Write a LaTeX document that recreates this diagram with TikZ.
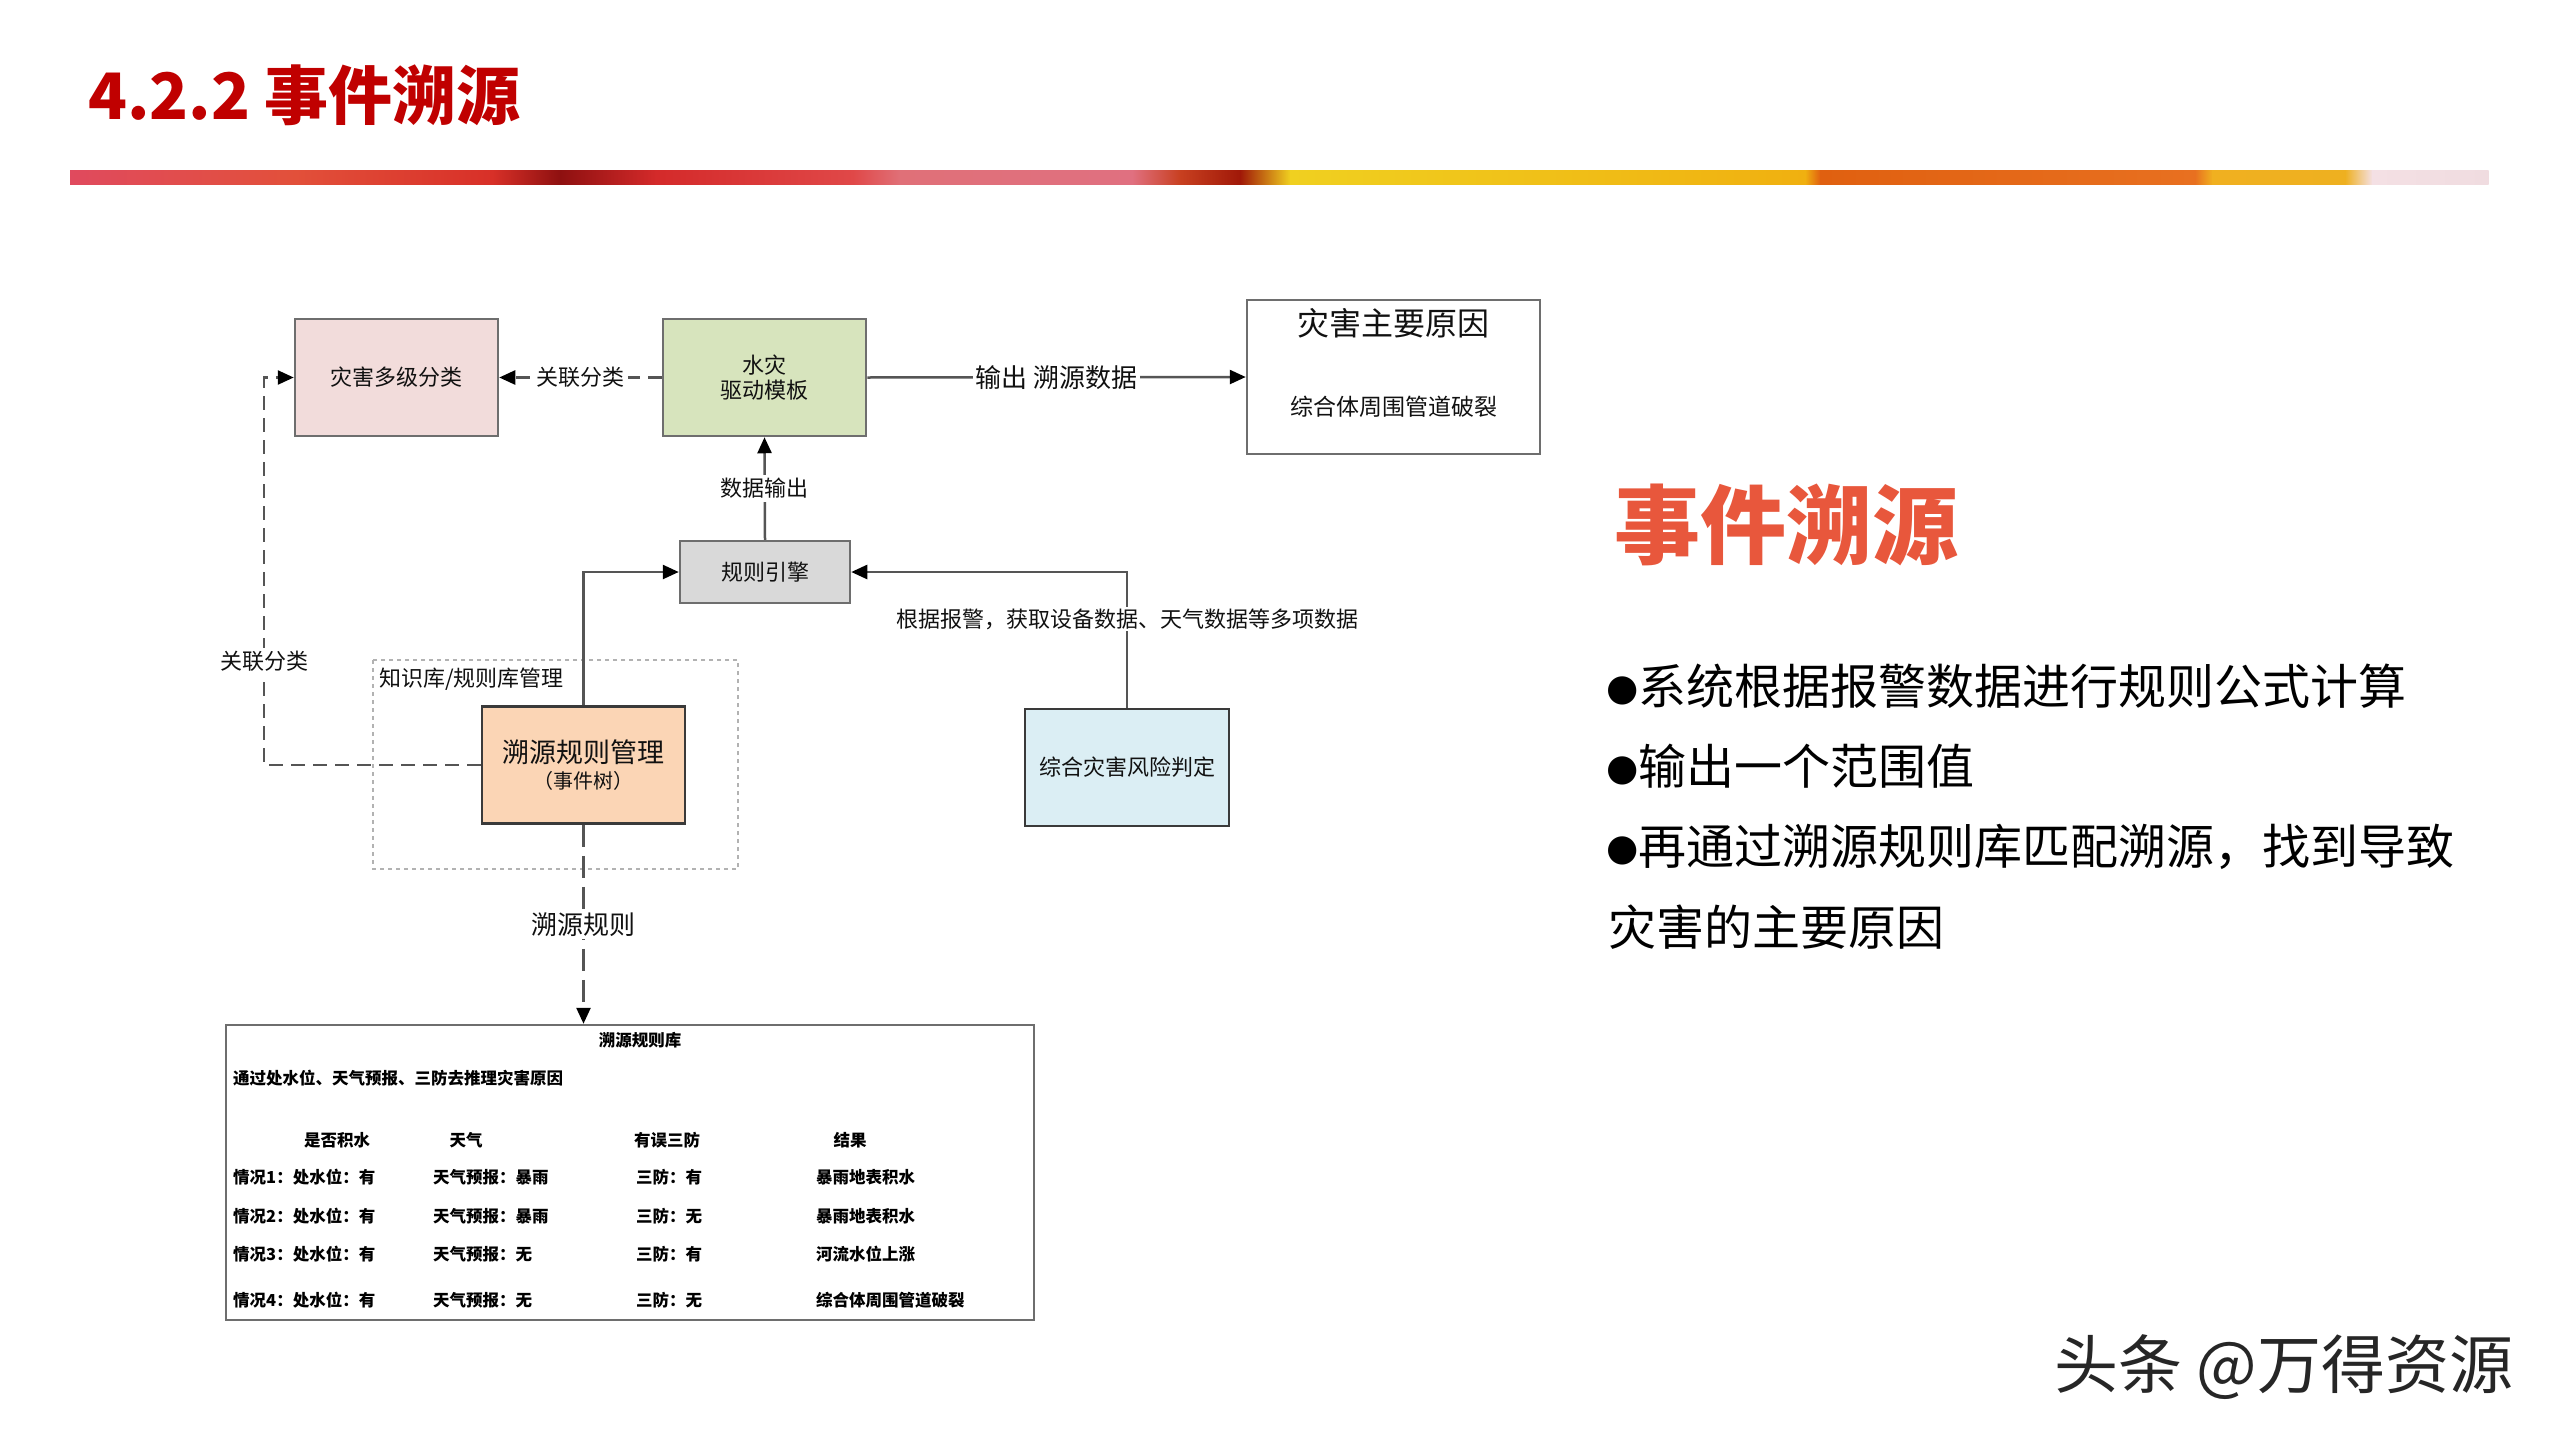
\documentclass[tikz,border=0pt]{standalone}
\usepackage{fontspec}
\setmainfont{Noto Sans CJK SC}
\newfontfamily\dejavu{DejaVu Sans}
\usetikzlibrary{arrows.meta}
\definecolor{pinkf}{HTML}{F2DCDB}
\definecolor{greenf}{HTML}{D7E4BD}
\definecolor{grayf}{HTML}{D9D9D9}
\definecolor{peachf}{HTML}{FBD5B5}
\definecolor{bluef}{HTML}{DBEEF4}
\definecolor{boxgray}{HTML}{6E6E6E}
\definecolor{darkb}{HTML}{3A3A3A}
\definecolor{lngray}{HTML}{555555}
\definecolor{txt}{HTML}{111111}
\definecolor{titlered}{HTML}{C00000}
\definecolor{headorange}{HTML}{E8573C}
\newcommand\fsz[2]{\fontsize{#1}{#2}\selectfont}
\newcommand\bdot{{\dejavu\fsz{37}{42}\raisebox{4pt}{●}}}
\begin{document}
\begin{tikzpicture}[x=1pt,y=-1pt,
  box/.style={draw=boxgray, line width=2.5pt, minimum width=203pt, minimum height=117pt, inner sep=0pt, align=center, font=\fsz{22}{25}, text=txt},
  conn/.style={draw=lngray, line width=2.5pt},
  arr/.style={-{Triangle[length=16pt,width=14pt,color=black]}},
  dsh/.style={dash pattern=on 14pt off 8pt},
  dshb/.style={dash pattern=on 22pt off 9pt},
  lbl/.style={fill=white, inner sep=3pt, font=\fsz{22}{26}, text=txt},
  tb/.style={font=\fsz{16.5}{20}\bfseries, text=black, inner sep=0pt},
  bul/.style={anchor=west, font=\fsz{48}{56}, text=black, inner sep=0pt}
]
\useasboundingbox (0,0) rectangle (2560,1440);
\fill[white] (0,0) rectangle (2560,1440);

% title
\node[anchor=west, inner sep=0pt, font=\fsz{64}{76}\bfseries, text=titlered] (title) at (88,95) {4.2.2 事件溯源};

% colourful band
\def\bandA{170}\def\bandB{184}
\foreach \xa/\ca/\xb/\cb in {
  70/E04A5E/295/E2503A,
  295/E2503A/492/D83028,
  492/D83028/560/8E1010,
  560/8E1010/656/D42A2A,
  656/D42A2A/853/E04848,
  853/E04848/900/E07078,
  900/E07078/1132/E07080,
  1132/E07080/1180/C84020,
  1180/C84020/1240/A01808,
  1240/A01808/1290/F0D020,
  1290/F0D020/1805/F0B010,
  1805/F0B010/1820/E06010,
  1820/E06010/2195/E87020,
  2195/E87020/2212/F0B020,
  2212/F0B020/2345/EEB020,
  2345/EEB020/2372/F4E0E4,
  2372/F4E0E4/2488/F0DCE0}{
  \definecolor{ca}{HTML}{\ca}\definecolor{cb}{HTML}{\cb}
  \shade[left color=ca, right color=cb] (\xa,\bandA) rectangle (\xb+0.5,\bandB);
}

% upper boxes
\node[box, fill=pinkf] (dz) at (396.5,377.5) {灾害多级分类};
\node[box, fill=greenf] (sz) at (764.5,377.5) {水灾\\驱动模板};
\node[box, fill=white, minimum width=293pt, minimum height=154pt] (yy) at (1393.5,377) {};
\node[font=\fsz{32}{36}, text=txt, inner sep=0pt] (yyt) at (1393.5,323) {灾害主要原因};
\node[font=\fsz{23}{26}, text=txt, inner sep=0pt] (yys) at (1393.5,407) {综合体周围管道破裂};
\node[box, fill=grayf, minimum width=170pt, minimum height=62pt] (gz) at (765,572) {规则引擎};

% knowledge base frame
\draw[draw=gray!60, line width=1.5pt, dash pattern=on 4pt off 4pt] (373,660) rectangle (738,869);
\node[anchor=west, font=\fsz{22}{26}, text=txt, inner sep=0pt] (kbl) at (379,679) {知识库/规则库管理};

\node[box, fill=peachf, draw=darkb] (sy) at (583.5,765) {};
\node[font=\fsz{27}{30}, text=txt, inner sep=0pt] (syt) at (583.5,752) {溯源规则管理};
\node[font=\fsz{20}{24}, text=txt, inner sep=0pt] (sys) at (583.5,781) {（事件树）};

\node[box, fill=bluef, draw=darkb, minimum width=204pt, minimum height=117pt] (zh) at (1127,767.5) {综合灾害风险判定};

% rule library box
\node[draw=boxgray, line width=2.5pt, minimum width=808pt, minimum height=295pt, inner sep=0pt] (lib) at (630,1172.5) {};

% connectors
\draw[conn, arr] (sz.east) -- (yy.west) node[midway, lbl, font=\fsz{26}{30}] (l1) {输出 溯源数据};
\draw[conn, dsh, arr] (sz.west) -- (dz.east) node[midway, lbl] (l2) {关联分类};
\draw[conn, arr] (gz.north) -- (sz.south) node[midway, lbl] (l3) {数据输出};
\draw[conn, arr] (sy.north) |- (gz.west);
\draw[conn, arr] (zh.north) |- (gz.east);
\node[lbl, inner sep=2pt] (l4) at (1127,619) {根据报警，获取设备数据、天气数据等多项数据};
\coordinate (lc) at (264,765);
\draw[conn, dsh, arr] (sy.west) -- (lc) |- (dz.west);
\node[lbl] (l5) at (264,661) {关联分类};
\draw[conn, dshb, arr] (sy.south) -- (sy.south |- lib.north) node[midway, lbl, font=\fsz{26}{30}] (l6) {溯源规则};

% table contents
\node[tb] (libt) at (640,1040) {溯源规则库};
\node[tb, anchor=west] (libd) at (233,1078) {通过处水位、天气预报、三防去推理灾害原因};
\node[tb] (h1) at (337,1140) {是否积水};
\node[tb] (h2) at (466,1140) {天气};
\node[tb] (h3) at (667,1140) {有误三防};
\node[tb] (h4) at (850,1140) {结果};
\foreach \i/\y/\a/\b/\c/\d in {
  1/1177/情况1：处水位：有/天气预报：暴雨/三防：有/暴雨地表积水,
  2/1216/情况2：处水位：有/天气预报：暴雨/三防：无/暴雨地表积水,
  3/1254/情况3：处水位：有/天气预报：无/三防：有/河流水位上涨,
  4/1300/情况4：处水位：有/天气预报：无/三防：无/综合体周围管道破裂}{
  \node[tb, anchor=west] (r\i a) at (233,\y) {\a};
  \node[tb, anchor=west] (r\i b) at (433,\y) {\b};
  \node[tb, anchor=west] (r\i c) at (636,\y) {\c};
  \node[tb, anchor=west] (r\i d) at (816,\y) {\d};
}

% right side text
\node[anchor=west, inner sep=0pt, font=\fsz{86}{96}\bfseries, text=headorange] (head) at (1614,525) {事件溯源};
\node[bul] (b1) at (1606,686) {\bdot 系统根据报警数据进行规则公式计算};
\node[bul] (b2) at (1606,766) {\bdot 输出一个范围值};
\node[bul] (b3) at (1606,847) {\bdot 再通过溯源规则库匹配溯源，找到导致};
\node[bul] (b4) at (1608,927) {灾害的主要原因};

% watermark
\node[anchor=west, inner sep=0pt, font=\fsz{64}{74}, text=black!85] (wm) at (2054,1367) {头条 @万得资源};
\end{tikzpicture}
\end{document}
